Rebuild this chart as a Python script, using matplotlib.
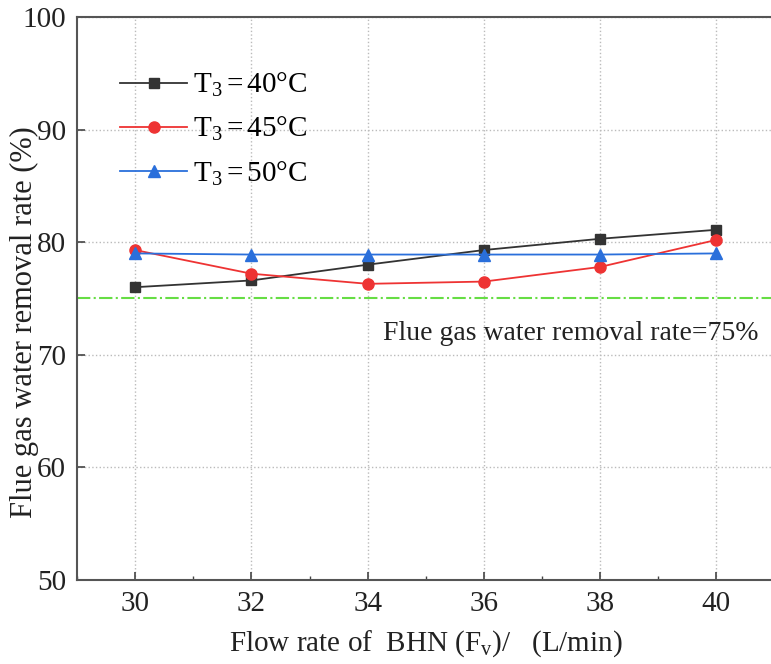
import matplotlib
matplotlib.use('Agg')
import matplotlib.pyplot as plt
from matplotlib.ticker import MultipleLocator

# Data
flow = [30, 32, 34, 36, 38, 40]
rate_40 = [76.0, 76.6, 78.0, 79.3, 80.3, 81.1]
rate_45 = [79.3, 77.2, 76.3, 76.5, 77.8, 80.2]
rate_50 = [79.0, 78.9, 78.9, 78.9, 78.9, 79.0]
threshold = 75
labels = ['T$_3=$40°C', 'T$_3=$45°C', 'T$_3=$50°C']

plt.rcParams['font.family'] = 'Liberation Serif'
plt.rcParams['mathtext.fontset'] = 'custom'
plt.rcParams['mathtext.rm'] = 'Liberation Serif'
plt.rcParams['mathtext.it'] = 'Liberation Serif:italic'

fig = plt.figure(figsize=(7.71, 6.64), dpi=100)
ax = fig.add_axes([0.0999, 0.1265, 0.9046, 0.848])

ax.plot(flow, rate_40, color='#333333', marker='s', markersize=7, lw=1.3, label=labels[0])
ax.plot(flow, rate_45, color='#ee3333', marker='o', markersize=8, lw=1.3, label=labels[1])
ax.plot(flow, rate_50, color='#2a6fdb', marker='^', markersize=8, lw=1.3, label=labels[2])
ax.axhline(threshold, color='#66dd44', ls='-.', lw=1.5)
ax.text(40.73, 71.9, 'Flue gas water removal rate=75%', fontsize=20, color='#222222',
        ha='right', va='center')

ax.set_xlim(29, 41)
ax.set_ylim(50, 100)
ax.xaxis.set_major_locator(MultipleLocator(2))
ax.xaxis.set_minor_locator(MultipleLocator(1))
ax.yaxis.set_major_locator(MultipleLocator(10))
ax.tick_params(axis='both', which='both', direction='in', labelsize=21, colors='#444444',
               labelcolor='#222222')
ax.tick_params(which='major', length=6, width=1.2, pad=8)
ax.tick_params(which='minor', length=3, width=1)
ax.grid(True, which='major', ls=':', color='#bbbbbb', lw=1)
for s in ax.spines.values():
    s.set_color('#555555')
    s.set_linewidth(1.5)

ax.set_xlabel('Flow rate of  BHN (F$_\\mathrm{v}$)/   (L/min)', fontsize=21, color='#222222',
              labelpad=8)
ax.set_ylabel('Flue gas water removal rate (%)', fontsize=22, color='#222222')
ax.yaxis.set_label_coords(-0.054, 0.458)

ax.legend(loc='upper left', bbox_to_anchor=(0.062, 0.904), borderaxespad=0, borderpad=0,
          frameon=False, fontsize=21, handlelength=2.3, handletextpad=0.2, labelspacing=0.55)

fig.savefig('out.png', dpi=100)
